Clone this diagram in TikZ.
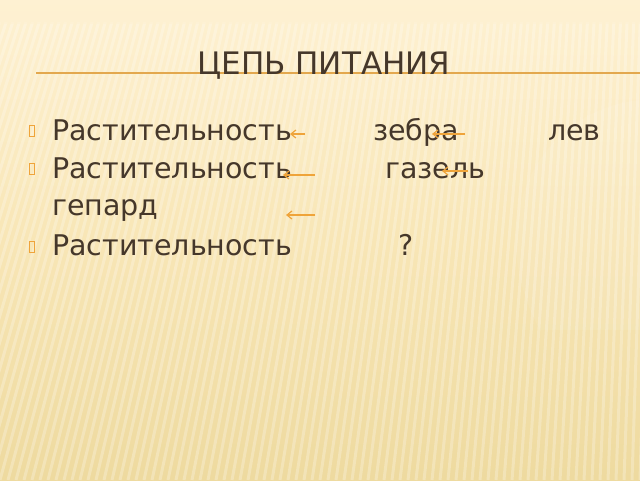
\documentclass[tikz,border=0pt]{standalone}
\usepackage{fontspec}
\setmainfont{DejaVu Sans}
\usetikzlibrary{arrows.meta}
\definecolor{bgtop}{HTML}{FEF1D2}
\definecolor{bgmid}{HTML}{F8E6B6}
\definecolor{bgbot}{HTML}{EEDA9F}
\definecolor{txt}{HTML}{45372A}
\definecolor{acc}{HTML}{EFA43A}
\definecolor{rule}{HTML}{E3A84E}
\tikzset{
  body/.style={anchor=base west, inner sep=0pt, text=txt, font=\fontsize{28.5}{30}\selectfont},
  ttl/.style={anchor=base, inner sep=0pt, text=txt, font=\fontsize{31}{32}\selectfont},
  bul/.style={draw=acc, line width=0.9pt, minimum width=4.5pt, minimum height=11pt, inner sep=0pt},
  arr/.style={draw=acc, line width=1.2pt, -{Straight Barb[length=5pt,width=8pt]}},
  stripe/.style={draw=white, opacity=0.25, line width=3pt}
}
\begin{document}
\begin{tikzpicture}[x=1pt,y=-1pt]
\useasboundingbox (0,0) rectangle (640,480);
% background
\shade[top color=bgtop, bottom color=bgbot, middle color=bgmid] (0,0) rectangle (640,480);
\begin{scope}
\clip (0,22) rectangle (640,480);
\foreach \x in {-200,-192,...,660}{
  \pgfmathsetmacro{\dx}{150*(1-(\x+200)/860)+10}
  \draw[stripe] (\x,480) -- (\x+\dx,22);
}
\end{scope}
\fill[white, opacity=0.07] (640,100) .. controls (540,110) and (480,220) .. (540,330) -- (640,330) -- cycle;
\fill[bgtop, opacity=0.6] (0,0) rectangle (640,24);
% title and rule
\draw[rule, line width=1.6pt] (36,73) -- (640,73);
\node[ttl] (title) at (324,74) {ЦЕПЬ ПИТАНИЯ};
% bullets
\node[bul] (b1) at (32,131) {};
\node[bul] (b2) at (32,169) {};
\node[bul] (b3) at (32,247) {};
% row 1
\node[body] (r1) at (52,140) {Растительность};
\node[body] (zeb) at (373,140) {зебра};
\node[body] (lev) at (548,140) {лев};
% row 2
\node[body] (r2) at (52,178) {Растительность};
\node[body] (gaz) at (385,178) {газель};
\node[body] (gep) at (52,215) {гепард};
% row 3
\node[body] (r3) at (52,255) {Растительность};
\node[body] (q) at (398,255) {?};
% arrows
\coordinate (a1s) at (305,134); \coordinate (a1e) at (290,134);
\coordinate (a2s) at (465,134); \coordinate (a2e) at (432,134);
\coordinate (a3s) at (315,175); \coordinate (a3e) at (283,175);
\coordinate (a4s) at (468,171); \coordinate (a4e) at (442,171);
\coordinate (a5s) at (315,215); \coordinate (a5e) at (286,215);
\draw[arr] (a1s) -- (a1e);
\draw[arr] (a2s) -- (a2e);
\draw[arr] (a3s) -- (a3e);
\draw[arr] (a4s) -- (a4e);
\draw[arr] (a5s) -- (a5e);
\end{tikzpicture}
\end{document}
